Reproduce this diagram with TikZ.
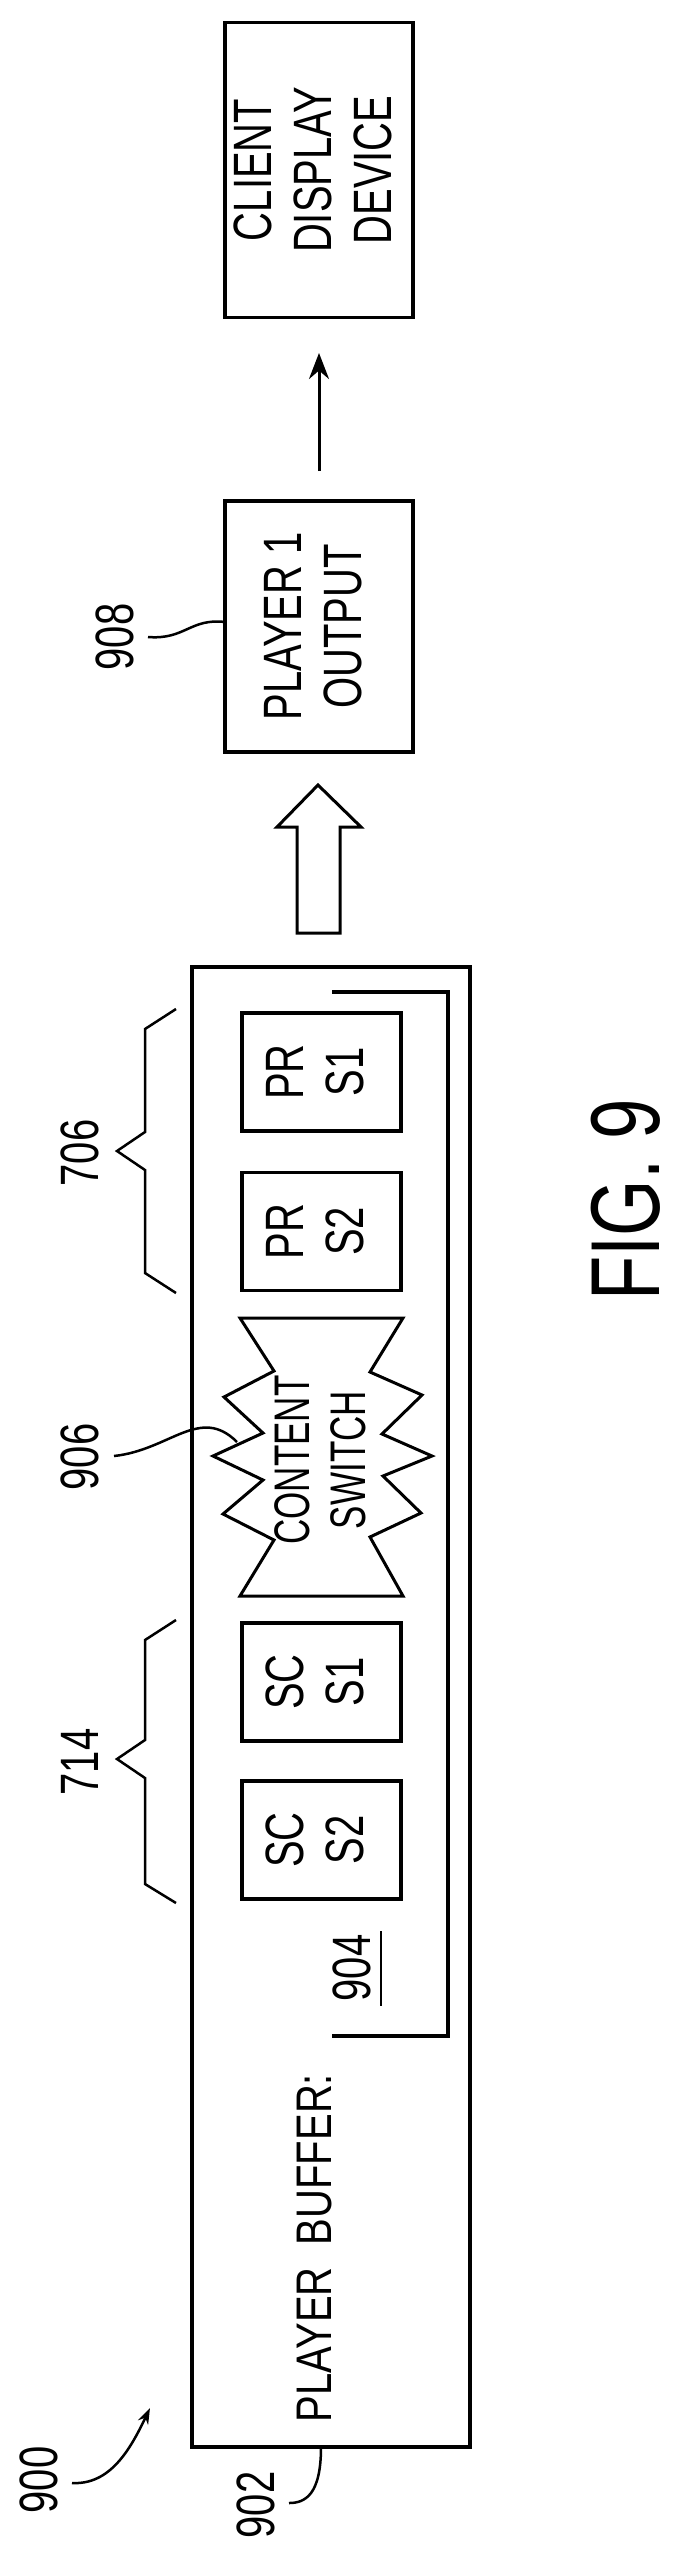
\documentclass[tikz,border=0pt]{standalone}
\usepackage{fontspec}
\setmainfont{Liberation Sans}
\usetikzlibrary{arrows.meta}
\newcommand\nrw[2][0.74]{\scalebox{#1}[1]{\begin{tabular}{@{}c@{}}#2\end{tabular}}}
\begin{document}
\begin{tikzpicture}[x=1pt,y=-1pt,
  box/.style={draw,line width=3.5pt,inner sep=0pt},
  lbl/.style={rotate=90,inner sep=0pt,font=\fontsize{54}{60}\selectfont},
  ln/.style={line width=3pt},
  thin/.style={line width=2.5pt}]
\useasboundingbox (0,0) rectangle (681,2562);
% boxes
\node[box,minimum width=188pt,minimum height=295pt] (cdd) at (319,170) {};
\node[lbl] at (cdd.center) {\nrw{CLIENT\\DISPLAY\\DEVICE}};
\node[box,minimum width=188pt,minimum height=251pt] (p1) at (319,626.5) {};
\node[lbl] at (p1.center) {\nrw{PLAYER 1\\OUTPUT}};
\coordinate (a1) at (p1.north |- 0,471);
\coordinate (a2) at (p1.north |- 0,353);
\draw[ln,-{Stealth[length=26pt,width=20pt]}] (a1) -- (a2);
% outer buffer
\node[box,minimum width=278pt,minimum height=1480pt] (pb) at (331,1707) {};
\draw[line width=3.5pt] (332,992) -- (448,992) -- (448,2036) -- (332,2036);
% hollow arrow
\draw[ln,line join=miter] (297,933) -- (297,827) -- (277,827) -- (318,785) -- (361,827) -- (340,827) -- (340,933) -- cycle;
% inner boxes
\foreach \n/\y/\t in {prs1/1072/PR\\S1, prs2/1231.5/PR\\S2, scs1/1682/SC\\S1, scs2/1840/SC\\S2}{
  \node[box,minimum width=159pt,minimum height=118pt] (\n) at (321.5,\y) {};
  \node[lbl] at (\n.center) {\nrw{\t}};
}
% content switch star
\draw[line width=3pt,line join=miter] (240,1318) -- (403,1318) -- (370,1372) -- (422,1395) -- (382,1434) -- (432,1456) -- (383,1476) -- (421,1513) -- (370,1537) -- (403,1596) -- (240,1596) -- (274,1540) -- (223,1514) -- (263,1480) -- (213,1456) -- (263,1433) -- (224,1397) -- (274,1371) -- cycle;
\node[lbl,font=\fontsize{50}{56}\selectfont] (cs) at (326,1460) {\nrw[0.7]{CONTENT\\SWITCH}};
% text
\node[lbl,font=\fontsize{50}{56}\selectfont] (pbt) at (320,2248) {\nrw[0.8]{PLAYER\ \ BUFFER:}};
\node[lbl] (l904) at (352,1968) {\scalebox{0.74}[1]{904}};
\draw[thin] (381,1931) -- (381,2006);
% braces
\draw[thin] (176,1009) -- (145,1029) -- (145,1132) -- (117,1151) -- (145,1170) -- (145,1273) -- (176,1293);
\draw[thin] (176,1620) -- (145,1640) -- (145,1740) -- (117,1759) -- (145,1778) -- (145,1884) -- (176,1903);
\node[lbl] (l706) at (80,1153) {\scalebox{0.74}[1]{706}};
\node[lbl] (l714) at (80,1762) {\scalebox{0.74}[1]{714}};
\node[lbl] (l906) at (80,1457) {\scalebox{0.74}[1]{906}};
\node[lbl] (l908) at (115,637) {\scalebox{0.74}[1]{908}};
\node[lbl] (l902) at (256,2505) {\scalebox{0.74}[1]{902}};
\node[lbl] (l900) at (39,2480) {\scalebox{0.74}[1]{900}};
\node[lbl,font=\fontsize{98}{100}\selectfont] (fig) at (626,1200) {\scalebox{0.74}[1]{FIG. 9}};
% leaders
\coordinate (c908) at (225,622);
\draw[thin] (148,637) .. controls (185,640) and (190,618) .. (c908);
\coordinate (c906) at (237,1442);
\draw[thin] (114,1456) .. controls (170,1450) and (200,1405) .. (c906);
\draw[thin] (321,2447) .. controls (321,2495) and (305,2503) .. (289,2503);
\coordinate (c900) at (150,2408);
\draw[thin,-{Stealth[length=16pt,width=11pt]}] (72,2483) .. controls (110,2485) and (130,2450) .. (c900);
\end{tikzpicture}
\end{document}
